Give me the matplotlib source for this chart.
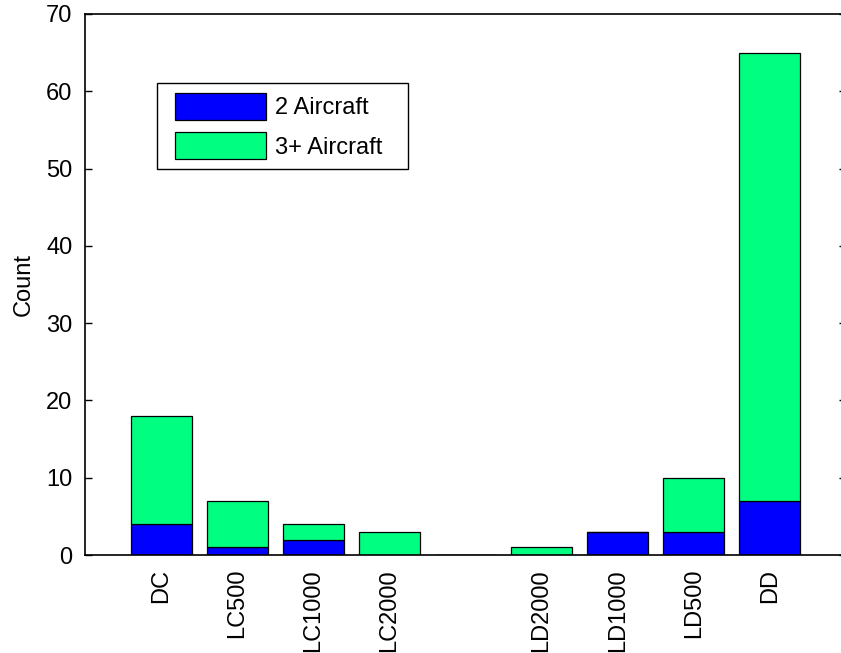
import numpy as np
import matplotlib
matplotlib.use("Agg")
import matplotlib.pyplot as plt
from matplotlib.patches import Rectangle

plt.rcParams["font.family"] = ["Liberation Sans", "DejaVu Sans"]

labels = ["DC", "LC500", "LC1000", "LC2000", "", "LD2000", "LD1000", "LD500", "DD"]
two_aircraft = [4, 1, 2, 0, 0, 0, 3, 3, 7]
three_plus = [14, 6, 2, 3, 0, 1, 0, 7, 58]

BLUE = "#0000ff"
GREEN = "#00ff80"
FS = 17

fig = plt.figure(figsize=(8.41, 6.53), dpi=100)
W, H = 841, 653
ax = fig.add_axes([85 / W, (H - 555) / H, (846 - 85) / W, (555 - 14) / H])

x = np.arange(1, len(labels) + 1)
ax.bar(x, two_aircraft, width=0.8, color=BLUE, edgecolor="black", linewidth=0.9, label="2 Aircraft")
ax.bar(x, three_plus, width=0.8, bottom=two_aircraft, color=GREEN, edgecolor="black",
       linewidth=0.9, label="3+ Aircraft")

ax.set_xlim(0, 10)
ax.set_ylim(0, 70)
ax.set_yticks(range(0, 71, 10))
ax.tick_params(axis="y", direction="in", length=5, width=1, labelsize=FS, right=True, pad=9)
keep = [i for i, l in enumerate(labels) if l]
ax.set_xticks(x[keep])
ax.set_xticklabels([labels[i] for i in keep], rotation=90, fontsize=FS)
ax.tick_params(axis="x", length=0, pad=10)
for s in ax.spines.values():
    s.set_linewidth(1.2)
ax.set_ylabel("Count", fontsize=FS, labelpad=8)

# legend box (MATLAB style: wider side padding than top/bottom)
ax.add_patch(Rectangle((157 / W, (H - 169) / H), (408 - 157) / W, (169 - 83) / H,
                       transform=fig.transFigure, facecolor="white", edgecolor="black",
                       linewidth=1.0, zorder=4, clip_on=False))
leg = ax.legend(loc="upper left", bbox_to_anchor=(175 / W, (H - 93) / H),
                bbox_transform=fig.transFigure, fontsize=FS, frameon=False,
                handlelength=3.85, handleheight=1.4,
                labelspacing=0.5, handletextpad=0.4, borderpad=0, borderaxespad=0)
leg.set_zorder(5)

fig.savefig("out.png", dpi=100)
